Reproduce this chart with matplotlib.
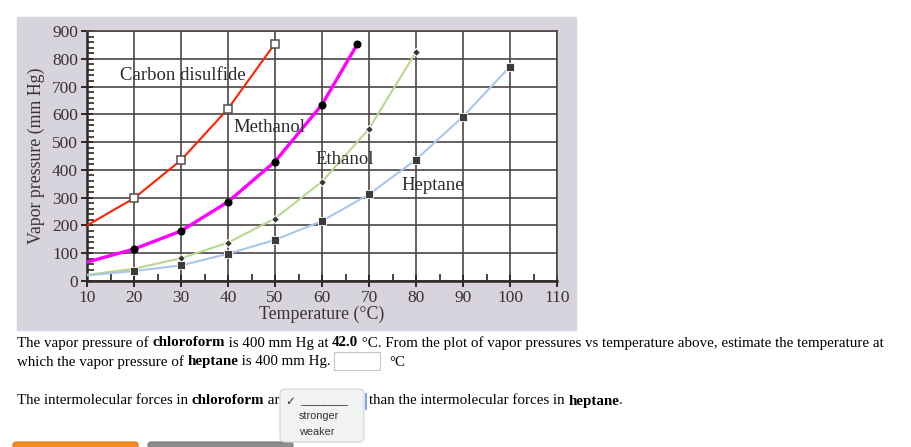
import matplotlib.pyplot as plt
from matplotlib.patches import Rectangle, FancyBboxPatch

# vapor pressure curves (mm Hg)
cs2_t = [10, 20, 30, 40, 50]
cs2_p = [200, 298, 435, 620, 855]
meth_t = [10, 20, 30, 40, 50, 60, 67.5]
meth_p = [68, 115, 180, 285, 430, 635, 852]
eth_t = [10, 20, 30, 40, 50, 60, 70, 80]
eth_p = [22, 44, 82, 138, 225, 358, 548, 825]
hept_t = [10, 20, 30, 40, 50, 60, 70, 80, 90, 100]
hept_p = [20, 36, 56, 98, 148, 216, 312, 437, 592, 772]

W, H = 912, 447
fig = plt.figure(figsize=(W / 100, H / 100), dpi=100)
serif = 'Liberation Serif'


def inch(x, y):
    return x / 100, (H - y) / 100


# grey textured panel behind the graph
x0, y0 = inch(17, 330)
fig.patches.append(Rectangle((x0, y0), (576 - 17) / 100, (330 - 17) / 100,
                             transform=fig.dpi_scale_trans, color='#d7d4dd', zorder=0))

ax = fig.add_axes([87 / W, 1 - 281 / H, 470 / W, 250 / H])
ax.set_zorder(1)
ax.set_facecolor('white')
ax.set_xlim(10, 110)
ax.set_ylim(0, 900)
ax.set_xticks(range(10, 111, 10))
ax.set_xticks(range(10, 111, 5), minor=True)
ax.set_yticks(range(0, 901, 100))
ax.set_yticks(range(0, 901, 20), minor=True)
ax.grid(True, which='major', color='#4d4545', lw=1.2)
ax.set_axisbelow(True)
for s in ['top', 'right']:
    ax.spines[s].set_color('#4d4545')
    ax.spines[s].set_linewidth(1.2)
for s in ['left', 'bottom']:
    ax.spines[s].set_color('#2e2828')
    ax.spines[s].set_linewidth(1.8)
ax.tick_params(which='major', direction='inout', length=9, width=1.4, color='#2e2828',
               labelsize=12.5, labelcolor='#3a3232', pad=2)
ax.tick_params(which='minor', direction='in', length=5, width=1.2, color='#2e2828')
for lab in ax.get_xticklabels() + ax.get_yticklabels():
    lab.set_family(serif)

ax.plot(cs2_t, cs2_p, color='#ff2200', lw=1.5, marker='s', ms=5.5, mfc='white',
        mec='#555050', mew=1.1, markevery=[1, 2, 3, 4], zorder=4)
ax.plot(meth_t, meth_p, color='#ff00ff', lw=2.4, marker='o', ms=4.8, mfc='black',
        mec='black', markevery=list(range(1, 7)), zorder=4)
ax.plot(eth_t, eth_p, color='#b8d88c', lw=1.5, marker='D', ms=3.6, mfc='#3a3535',
        mec='white', mew=0.8, markevery=list(range(2, 8)), zorder=3)
ax.plot(hept_t, hept_p, color='#a9c5ec', lw=1.5, marker='s', ms=5.6, mfc='#3f3b3b',
        mec='white', mew=0.6, markevery=list(range(1, 10)), zorder=3)

for txt, x, y in [('Carbon disulfide', 30.4, 740), ('Methanol', 48.8, 552),
                  ('Ethanol', 64.8, 437), ('Heptane', 83.6, 345)]:
    ax.text(x, y, txt, family=serif, fontsize=13.5, color='#2e2a2a',
            ha='center', va='center', zorder=5)

ax.set_xlabel('Temperature (°C)', family=serif, fontsize=12.8, color='#3a3232', labelpad=0)
ax.set_ylabel('Vapor pressure (mm Hg)', family=serif, fontsize=12.8, color='#3a3232', labelpad=5)

# question text below the graph
r = fig.canvas.get_renderer()


def width(s, size, bold, family=serif):
    t = fig.text(0, 0, '|' + s + '|', fontsize=size, family=family,
                 fontweight='bold' if bold else 'normal')
    u = fig.text(0, 0, '||', fontsize=size, family=family,
                 fontweight='bold' if bold else 'normal')
    w = t.get_window_extent(r).width - u.get_window_extent(r).width
    t.remove()
    u.remove()
    return w


def rich(x, y, parts, size=10.8):
    for s, bold in parts:
        fig.text(x / W, 1 - y / H, s, fontsize=size, family=serif, va='center', ha='left',
                 fontweight='bold' if bold else 'normal', color='black', zorder=3)
        x += width(s, size, bold)
    return x


rich(17, 343, [('The vapor pressure of ', False), ('chloroform', True),
               (' is 400 mm Hg at ', False), ('42.0', True),
               (' °C. From the plot of vapor pressures vs temperature above, estimate the temperature at', False)])
rich(17, 362, [('which the vapor pressure of ', False), ('heptane', True),
               (' is 400 mm Hg.', False)])
fig.patches.append(Rectangle(inch(334, 370), 46 / 100, 18 / 100, transform=fig.dpi_scale_trans,
                             facecolor='white', edgecolor='#c6c6c6', lw=0.8, zorder=2))
rich(389, 362, [('°C', False)])

# "are" is cut off by the open menu in the screenshot
rich(17, 401, [('The intermolecular forces in ', False), ('chloroform', True), (' ar', False)])
rich(369, 401, [('than the intermolecular forces in ', False), ('heptane', True), ('.', False)])

# open select menu
fig.lines.append(plt.Line2D([366 / W, 366 / W], [1 - 394 / H, 1 - 409 / H],
                            transform=fig.transFigure, color='#7fa8e2', lw=1.5, zorder=4))
fig.patches.append(FancyBboxPatch(inch(280, 442), 84 / 100, 53 / 100,
                                  boxstyle='round,pad=0,rounding_size=0.05',
                                  transform=fig.dpi_scale_trans, facecolor='#f1f3f3',
                                  edgecolor='#d0d3d3', lw=0.8, zorder=5))
fig.text(285 / W, 1 - 401 / H, '✓', family='DejaVu Sans', fontsize=8.5, va='center',
         color='#333333', zorder=6)
fig.text(300 / W, 1 - 401 / H, '________', family='Liberation Sans', fontsize=7.8,
         va='center', color='#333333', zorder=6)
fig.text(299 / W, 1 - 416 / H, 'stronger', family='Liberation Sans', fontsize=7.8,
         va='center', color='#333333', zorder=6)
fig.text(299 / W, 1 - 432 / H, 'weaker', family='Liberation Sans', fontsize=7.8,
         va='center', color='#333333', zorder=6)

# buttons peeking at the bottom
fig.patches.append(FancyBboxPatch(inch(13, 452), 125 / 100, 10 / 100,
                                  boxstyle='round,pad=0,rounding_size=0.03',
                                  transform=fig.dpi_scale_trans, facecolor='#f58a1f',
                                  edgecolor='#e07810', lw=0.8, zorder=2))
fig.patches.append(FancyBboxPatch(inch(148, 452), 145 / 100, 10 / 100,
                                  boxstyle='round,pad=0,rounding_size=0.03',
                                  transform=fig.dpi_scale_trans, facecolor='#8d8d8d',
                                  edgecolor='#7a7a7a', lw=0.8, zorder=2))

fig.savefig('out.png', dpi=100)
